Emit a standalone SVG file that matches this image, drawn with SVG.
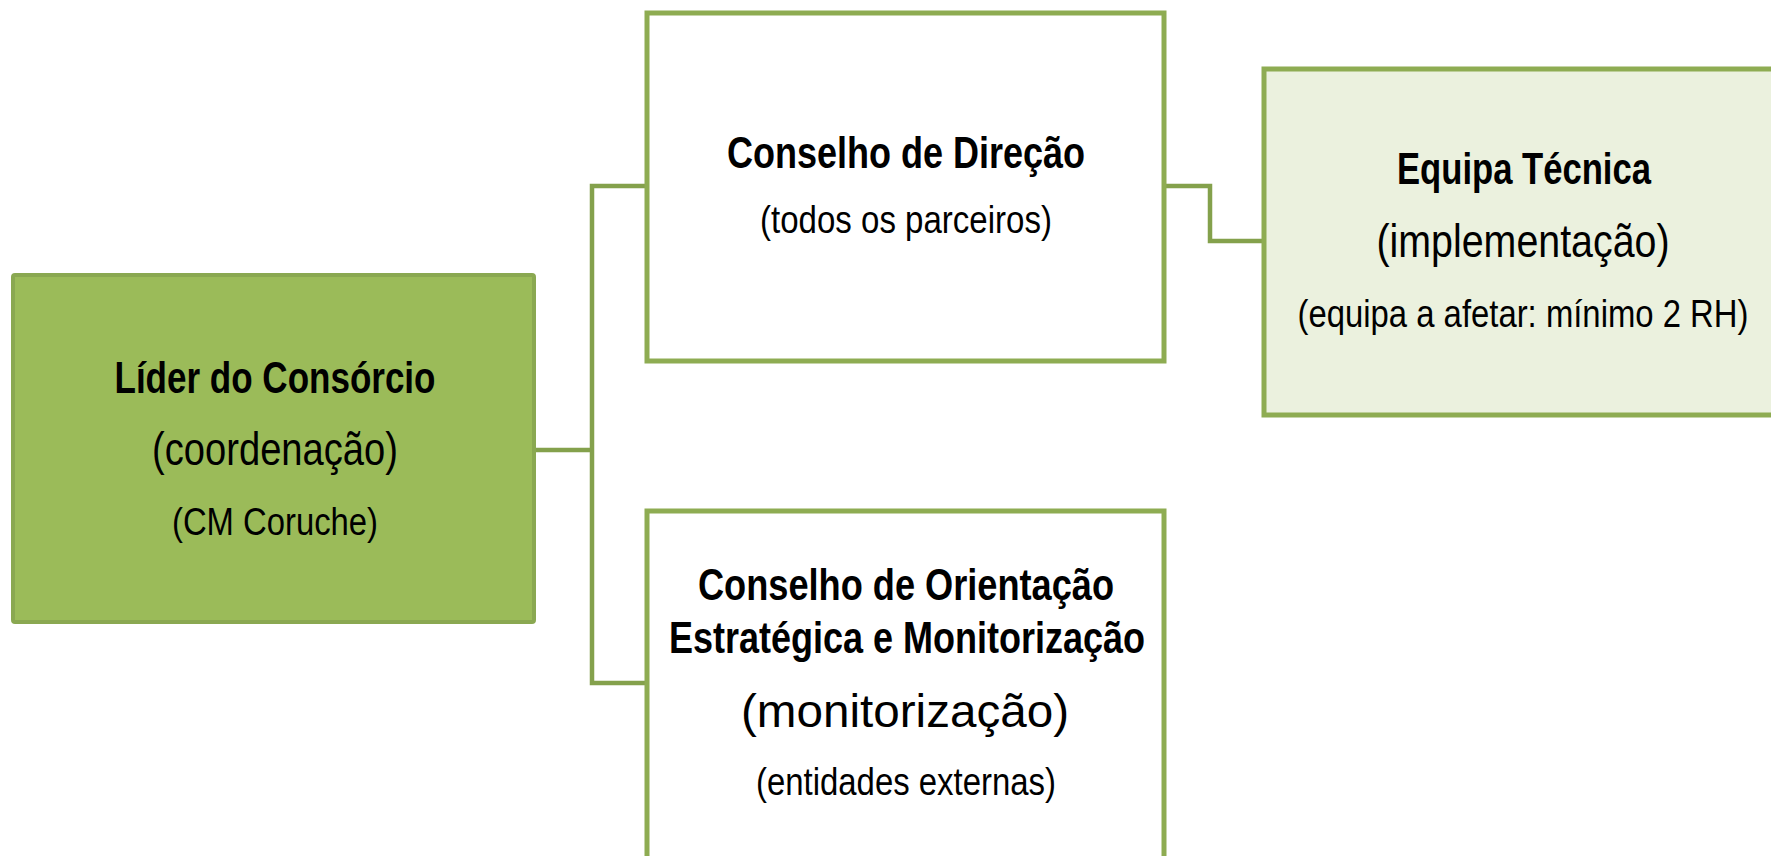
<svg xmlns="http://www.w3.org/2000/svg" width="1771" height="856" viewBox="0 0 1771 856">
<style>
.box{stroke:#8eac52;stroke-width:5}
.t{font-family:"Liberation Sans",Arial,sans-serif;text-anchor:middle;fill:#000}
.b{font-weight:bold;font-size:44px}
.m{font-size:46px}
.s{font-size:38px}
.c{fill:none;stroke:#84a14c;stroke-width:4.5}
</style>
<rect width="1771" height="856" fill="#fff"/>
<g id="connectors">
<polyline class="c" points="535,450 592,450"/>
<polyline class="c" points="645,186 592,186 592,683 645,683"/>
<polyline class="c" points="1166,186 1210,186 1210,241 1262,241"/>
</g>
<g id="lider">
<rect class="box" x="13" y="275" width="521" height="347" rx="2" fill="#9bbb59" style="stroke:#8aa851;stroke-width:4"/>
<text class="t b" x="275" y="393" textLength="321" lengthAdjust="spacingAndGlyphs">Líder do Consórcio</text>
<text class="t m" x="275" y="465" textLength="246" lengthAdjust="spacingAndGlyphs">(coordenação)</text>
<text class="t s" x="275" y="535" textLength="206" lengthAdjust="spacingAndGlyphs">(CM Coruche)</text>
</g>
<g id="direcao">
<rect class="box" x="647" y="13" width="517" height="348" fill="#fff"/>
<text class="t b" x="906" y="168" textLength="358" lengthAdjust="spacingAndGlyphs">Conselho de Direção</text>
<text class="t s" x="906" y="233" textLength="292" lengthAdjust="spacingAndGlyphs">(todos os parceiros)</text>
</g>
<g id="equipa">
<rect class="box" x="1264" y="69" width="540" height="346" fill="#ebf1de"/>
<text class="t b" x="1524" y="184" textLength="254" lengthAdjust="spacingAndGlyphs">Equipa Técnica</text>
<text class="t m" x="1523" y="257" textLength="293" lengthAdjust="spacingAndGlyphs">(implementação)</text>
<text class="t s" x="1523" y="327" textLength="451" lengthAdjust="spacingAndGlyphs">(equipa a afetar: mínimo 2 RH)</text>
</g>
<g id="orientacao">
<rect class="box" x="647" y="511" width="517" height="380" fill="#fff"/>
<text class="t b" x="906" y="600" textLength="416" lengthAdjust="spacingAndGlyphs">Conselho de Orientação</text>
<text class="t b" x="907" y="653" textLength="476" lengthAdjust="spacingAndGlyphs">Estratégica e Monitorização</text>
<text class="t m" x="905" y="727" textLength="328" lengthAdjust="spacingAndGlyphs">(monitorização)</text>
<text class="t s" x="906" y="795" textLength="300" lengthAdjust="spacingAndGlyphs">(entidades externas)</text>
</g>
</svg>
